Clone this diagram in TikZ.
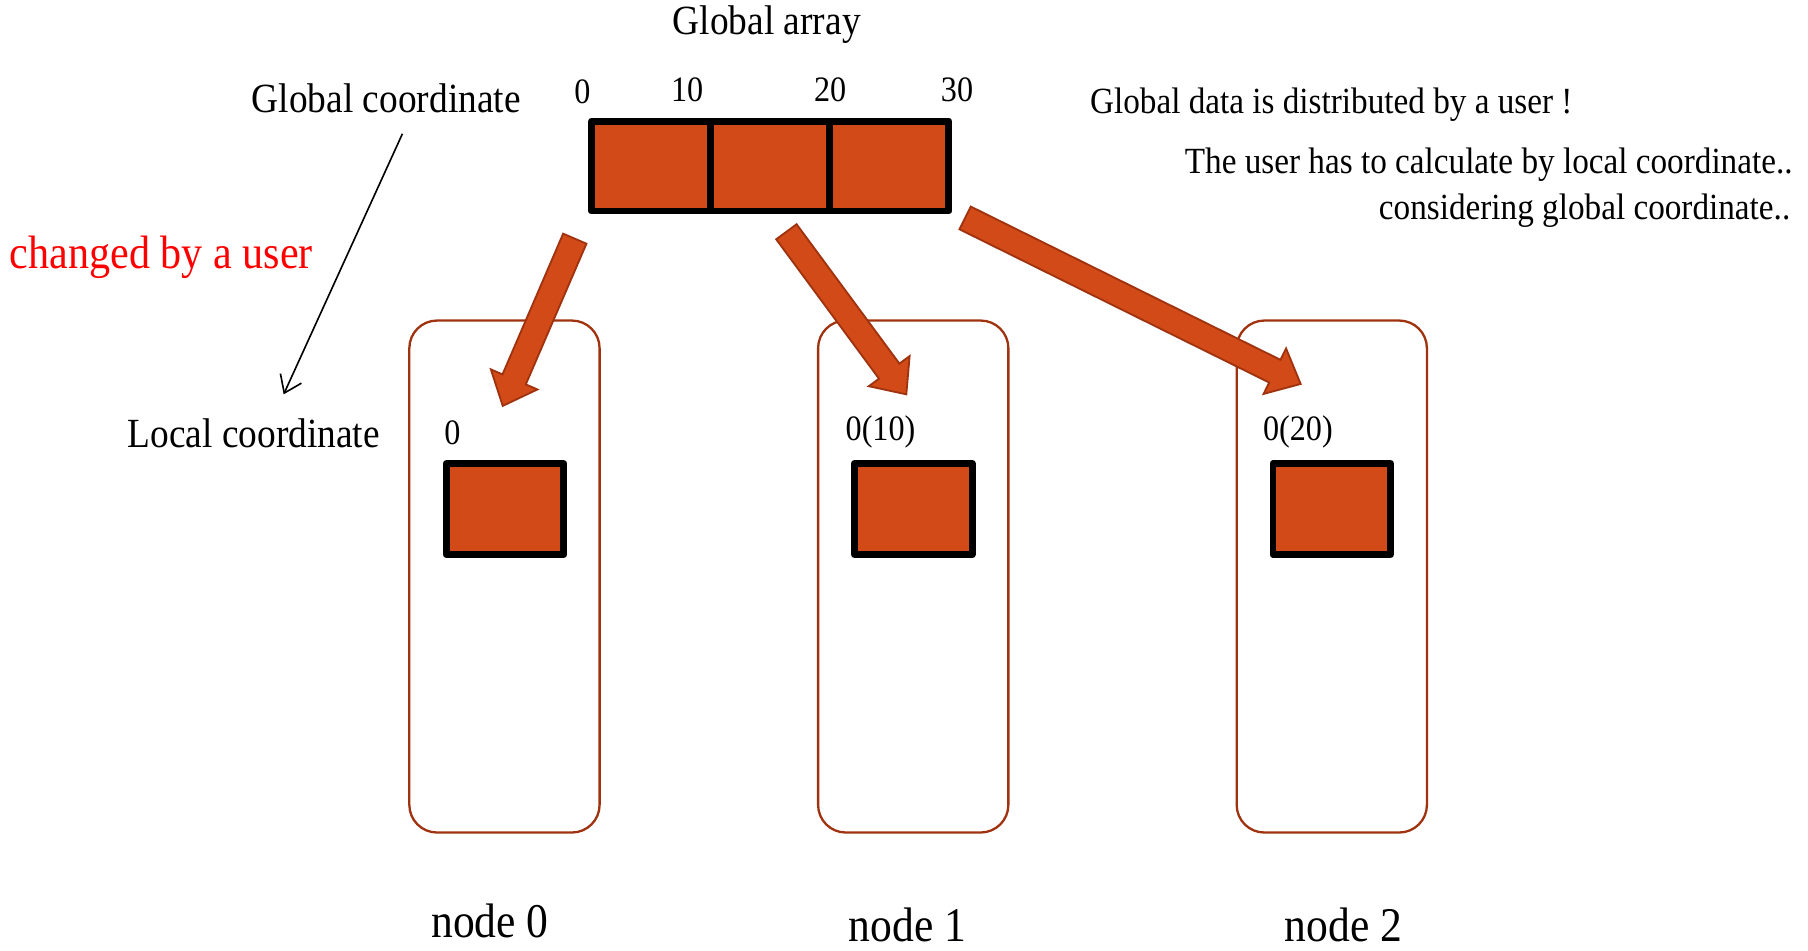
\documentclass[tikz,border=0pt]{standalone}
\usepackage{fontspec}
\setmainfont[FakeStretch=0.9]{Liberation Serif}
\usetikzlibrary{calc,arrows.meta}
\definecolor{arrfill}{HTML}{D14A17}
\definecolor{arrline}{HTML}{A0330F}
\definecolor{boxline}{HTML}{A0330F}
\tikzset{
  lbl/.style={font=\fontsize{18}{20}\selectfont, inner sep=0pt},
  note/.style={font=\fontsize{16}{18}\selectfont, inner sep=0pt},
  digit/.style={font=\fontsize{15.5}{17}\selectfont, inner sep=0pt},
  nodelbl/.style={font=\fontsize{21}{23}\selectfont, inner sep=0pt},
  redlbl/.style={font=\fontsize{20.3}{22}\selectfont, text=red, inner sep=0pt},
  cell/.style={draw=black, line width=3pt, fill=arrfill, line join=round,
               minimum width=51.67pt, minimum height=39pt, inner sep=0pt, outer sep=0pt},
  localsq/.style={draw=black, line width=3pt, fill=arrfill, line join=round,
               minimum width=51pt, minimum height=39.5pt, inner sep=0pt},
  nodebox/.style={draw=boxline, line width=1pt, rounded corners=12pt,
               minimum width=82.5pt, minimum height=222pt, inner sep=0pt},
  blockarr/.style={fill=arrfill, draw=arrline, line width=0.8pt, line join=miter},
  thinarr/.style={draw=black, line width=0.7pt, -{Straight Barb[length=7pt,width=10pt]}}
}
\newcommand\blockarrow[2]{%
  \coordinate (#1-h) at ($(#2)!12.5pt!(#1)$);
  \filldraw[blockarr] ($(#1)!5.5pt!90:(#2)$) -- ($(#1-h)!5.5pt!90:(#2)$)
    -- ($(#1-h)!11pt!90:(#2)$) -- (#2) -- ($(#1-h)!11pt!-90:(#2)$)
    -- ($(#1-h)!5.5pt!-90:(#2)$) -- ($(#1)!5.5pt!-90:(#2)$) -- cycle;}
\begin{document}
\begin{tikzpicture}[x=0.5pt, y=-0.5pt]
\useasboundingbox (0,0) rectangle (1568,824);

% titles and labels
\node[lbl] (title) at (665,21) {Global array};
\node[lbl] (gcoord) at (335,85) {Global coordinate};
\node[lbl] (lcoord) at (220,376) {Local coordinate};
\node[redlbl] (changed) at (140,223) {changed by a user};

\node[note, anchor=west] (note1) at (945,91) {Global data is distributed by a user !};
\node[note, anchor=east] (note2) at (1555,143) {The user has to calculate by local coordinate..};
\node[note, anchor=east] (note3) at (1553,183) {considering global coordinate..};

% global array
\node[cell] (c0) at (564.7,144) {};
\node[cell] (c1) at (668,144) {};
\node[cell] (c2) at (771.3,144) {};
\node[digit] (g0) at (505,80) {0};
\node[digit] (g10) at (596,78) {10};
\node[digit] (g20) at (720,78) {20};
\node[digit] (g30) at (830,78) {30};

% node boxes
\node[nodebox] (n0) at (437.5,500) {};
\node[nodebox] (n1) at (792,500) {};
\node[nodebox] (n2) at (1155,500) {};

\node[localsq] (s0) at (438,441.5) {};
\node[localsq] (s1) at (792,441.5) {};
\node[localsq] (s2) at (1155,441.5) {};

\node[digit, anchor=west] (l0) at (385,375) {0};
\node[digit, anchor=west] (l1) at (733,375) {0(10)};
\node[digit, anchor=west] (l2) at (1095,375) {0(20)};

\node[nodelbl] (nl0) at (425,799) {node 0};
\node[nodelbl] (nl1) at (787,802) {node 1};
\node[nodelbl] (nl2) at (1165,802) {node 2};

% block arrows
\coordinate (t0) at (498.5,207);
\coordinate (h0) at (436,352);
\coordinate (t1) at (682,201);
\coordinate (h1) at (786,342);
\coordinate (t2) at (837,189);
\coordinate (h2) at (1128,333);
\blockarrow{t0}{h0}
\blockarrow{t1}{h1}
\blockarrow{t2}{h2}

% thin arrow
\coordinate (ta) at (349,116);
\coordinate (tb) at (246,342);
\draw[thinarr] (ta) -- (tb);
\end{tikzpicture}
\end{document}
